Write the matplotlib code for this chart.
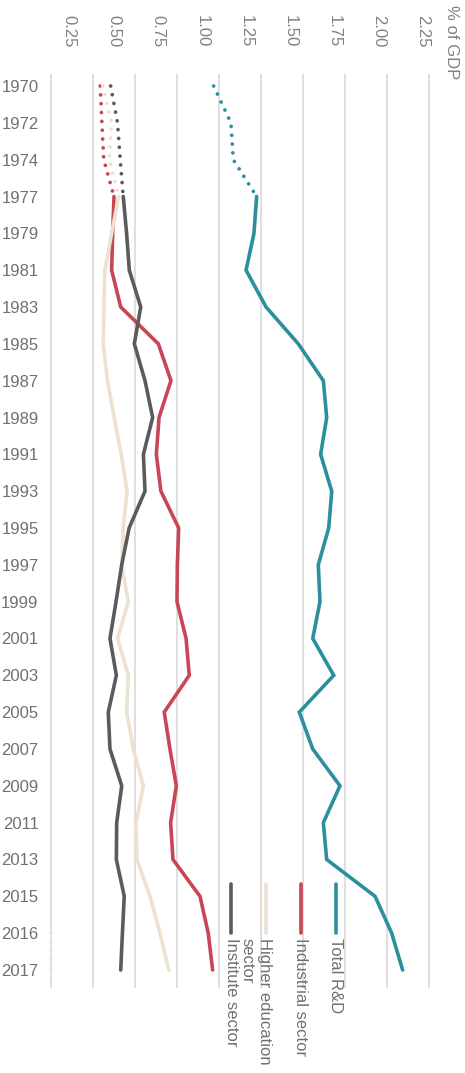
import numpy as np
import matplotlib
matplotlib.use('Agg')
import matplotlib.pyplot as plt
from matplotlib.lines import Line2D

plt.rcParams['font.family'] = ['Liberation Sans', 'DejaVu Sans']

# Category labels down the (rotated) chart
years = ['1970', '1972', '1974', '1977', '1979', '1981', '1983', '1985', '1987',
         '1989', '1991', '1993', '1995', '1997', '1999', '2001', '2003', '2005',
         '2007', '2009', '2011', '2013', '2015', '2016', '2017']

# Early estimates 1970-1977 (drawn dotted)
total_early = [0.971, 1.074, 1.088, 1.227]
industrial_early = [0.296, 0.306, 0.317, 0.378]
higher_ed_early = [0.311, 0.363, 0.350, 0.405]
institute_early = [0.358, 0.399, 0.415, 0.433]

# Main series 1977-2017, % of GDP
total_rd = [1.227, 1.211, 1.164, 1.283, 1.475, 1.624, 1.644, 1.608, 1.674, 1.656, 1.594,
            1.604, 1.561, 1.686, 1.481, 1.561, 1.723, 1.624, 1.644, 1.932, 2.031, 2.096]
industrial = [0.378, 0.370, 0.364, 0.418, 0.642, 0.717, 0.646, 0.630, 0.657, 0.763, 0.755,
              0.753, 0.807, 0.826, 0.677, 0.711, 0.749, 0.715, 0.729, 0.890, 0.939, 0.965]
higher_ed = [0.405, 0.364, 0.324, 0.318, 0.314, 0.339, 0.379, 0.421, 0.456, 0.433, 0.424,
             0.463, 0.399, 0.463, 0.453, 0.493, 0.553, 0.509, 0.515, 0.592, 0.652, 0.704]
institute = [0.433, 0.453, 0.469, 0.537, 0.499, 0.5625, 0.608, 0.553, 0.5625, 0.468, 0.424,
             0.390, 0.354, 0.392, 0.344, 0.354, 0.424, 0.394, 0.392, 0.439, 0.428, 0.418]

# stray dotted higher-education values shown at zero for 2016-2017
higher_ed_tail = [0.0, 0.0]

value_ticks = [0.25, 0.50, 0.75, 1.00, 1.25, 1.50, 1.75, 2.00, 2.25]
legend_labels = ['Total R&D', 'Industrial sector', 'Higher education\nsector', 'Institute sector']

colors = ['#2b8f9e', '#c84655', '#ede1d2', '#5b5b5b']
W, H = 465, 1073

fig = plt.figure(figsize=(W / 100, H / 100), dpi=100)

# axes box in pixels: x 40..440, y 74..988 (top..bottom)
ax = fig.add_axes([40 / W, 1 - 988 / H, 400 / W, 914 / H])
px_per_unit = 168.0
ax.set_xlim(-(50.5 - 40) / px_per_unit, (440 - 50.5) / px_per_unit)
ax.set_ylim(24 + 18 / 36.83, -12 / 36.83)

n_early = len(total_early)
idx_early = np.arange(n_early)
idx_main = np.arange(n_early - 1, len(years))
idx_tail = np.arange(len(years) - len(higher_ed_tail), len(years))

dot_style = dict(lw=2.7, linestyle=(0, (0.01, 2.35)), dash_capstyle='round')
solid_style = dict(lw=2.6, solid_capstyle='round', solid_joinstyle='miter')

early = [total_early, industrial_early, higher_ed_early, institute_early]
main = [total_rd, industrial, higher_ed, institute]
for c, e, m in zip(colors, early, main):
    ax.plot(e, idx_early, color=c, **dot_style)
    ax.plot(m, idx_main, color=c, **solid_style)
    if c == colors[2]:
        ax.plot(higher_ed_tail, idx_tail, color=c, clip_on=False, **dot_style)

# vertical grid lines at 0..2.25
ax.set_xticks(np.arange(0, 2.26, 0.25))
ax.grid(axis='x', color='#d9d9d9', lw=1.2, zorder=0)
ax.set_axisbelow(True)
ax.tick_params(axis='x', length=0, labelbottom=False)
for s in ax.spines.values():
    s.set_visible(False)

ax.set_yticks(range(len(years)))
ax.set_yticklabels(years, fontsize=12, color='#707070')
ax.tick_params(axis='y', length=0, pad=1)

# value labels, rotated like the rest of the chart
for k, v in enumerate(value_ticks):
    fig.text((69.3 + 44.2 * k) / W, 1 - 15 / H, f'{v:.2f}', rotation=-90,
             ha='center', va='top', fontsize=12, color='#808080')
fig.text(451.7 / W, 1 - 5 / H, '% of GDP', rotation=-90, ha='center', va='top',
         fontsize=12, color='#808080')

# legend drawn by hand
leg_x = [335.7, 300.7, 265.7, 231.0]
for x, c, lab in zip(leg_x, colors, legend_labels):
    fig.add_artist(Line2D([x / W, x / W], [1 - 884 / H, 1 - 933 / H], color=c,
                          lw=2.6, solid_capstyle='round'))
    tx = x - 10.3 if '\n' in lab else x
    fig.text(tx / W, 1 - 938 / H, lab, rotation=-90, ha='center', va='top',
             multialignment='left', fontsize=12, color='#707070', linespacing=1.2)

fig.savefig('out.png', dpi=100)
